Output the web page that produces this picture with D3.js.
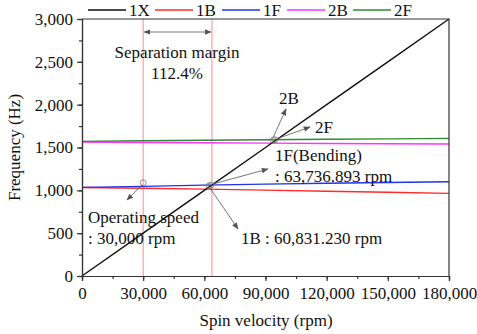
<!DOCTYPE html>
<html><head><meta charset="utf-8">
<script src="https://cdn.jsdelivr.net/npm/d3@7"></script>
<style>body{margin:0;background:#fff}svg{display:block}text{font-family:"Liberation Serif",serif;fill:#111}</style>
</head><body><svg id="c" width="477" height="334"></svg>
<script>
const seriesNames = ["1X","1B","1F","2B","2F"];
const seriesColors = ["#111111","#ff2a2a","#2233ee","#ff33ff","#2e8b2e"];
const rpm = [0, 30000, 60000, 90000, 120000, 150000, 180000];
const val1X = [0, 500, 1000, 1500, 2000, 2500, 3000];
const val1B = [1033, 1024, 1014, 1002, 990, 978, 965];
const val1F = [1035, 1046, 1061, 1072, 1082, 1091, 1100];
const val2B = [1563, 1559, 1555, 1551, 1547, 1543, 1540];
const val2F = [1572, 1578, 1584, 1590, 1596, 1601, 1606];
const xTicks = [0, 30000, 60000, 90000, 120000, 150000, 180000];
const yTicks = [0, 500, 1000, 1500, 2000, 2500, 3000];
const markLines = [30000, 63736.893];
const circles = [[30000, 1088], [62300, 1050], [63200, 1062], [93800, 1585], [94600, 1590]];

const FS = 17;
const svg = d3.select("#c");
const L = 82, R = 449, T = 19, B = 276;
const x = d3.scaleLinear().domain([0, 180000]).range([L, R]);
const y = d3.scaleLinear().domain([0, 3000]).range([B, T]);
const fmt = d3.format(",");

svg.append("defs").append("marker").attr("id","ah").attr("viewBox","0 0 10 10")
  .attr("refX",9).attr("refY",5).attr("markerWidth",7).attr("markerHeight",7)
  .attr("orient","auto-start-reverse").attr("markerUnits","userSpaceOnUse")
  .append("path").attr("d","M0,1 L10,5 L0,9 Z").attr("fill","#555");

markLines.forEach(v => svg.append("line").attr("x1",x(v)).attr("x2",x(v)).attr("y1",T).attr("y2",B)
  .attr("stroke","#ff8a8a").attr("stroke-width",1));

const all = [val1X, val1B, val1F, val2B, val2F];
const line = d3.line().x(d => x(d[0])).y(d => y(d[1]));
[1,2,3,4,0].forEach(i => {
  svg.append("path").datum(rpm.map((r,j)=>[r, all[i][j]])).attr("d", line)
    .attr("fill","none").attr("stroke", seriesColors[i]).attr("stroke-width", 1.4);
});

const xMinor = d3.range(0, 180001, 15000);
const yMinor = d3.range(0, 3001, 250);
const gx = svg.append("g").attr("transform",`translate(0,${B})`)
  .call(d3.axisBottom(x).tickValues(xMinor).tickSize(3).tickFormat(""));
const gx2 = svg.append("g").attr("transform",`translate(0,${B})`)
  .call(d3.axisBottom(x).tickValues(xTicks).tickSize(5).tickPadding(4).tickFormat(fmt));
const gy = svg.append("g").attr("transform",`translate(${L},0)`)
  .call(d3.axisLeft(y).tickValues(yMinor).tickSize(3).tickFormat(""));
const gy2 = svg.append("g").attr("transform",`translate(${L},0)`)
  .call(d3.axisLeft(y).tickValues(yTicks).tickSize(5).tickPadding(4).tickFormat(fmt));
[gx,gx2,gy,gy2].forEach(g => { g.attr("font-family",null).attr("font-size",null);
  g.selectAll("path,line").attr("stroke","#333").attr("stroke-width",1.2);
  g.selectAll("text").attr("font-size",FS).attr("fill","#111"); });
gx2.selectAll("text").attr("dy","0.85em");
svg.append("path").attr("d",`M${L},${T}H${R}V${B}`).attr("fill","none").attr("stroke","#333").attr("stroke-width",1.2);

svg.append("text").attr("x",266).attr("y",326).attr("text-anchor","middle").attr("font-size",FS).text("Spin velocity (rpm)");
svg.append("text").attr("transform",`translate(20,${(T+B)/2}) rotate(-90)`).attr("text-anchor","middle").attr("font-size",FS).text("Frequency (Hz)");

const legX = [88, 155, 222, 287, 353];
seriesNames.forEach((n,i) => {
  svg.append("line").attr("x1",legX[i]).attr("x2",legX[i]+38).attr("y1",10).attr("y2",10)
    .attr("stroke",seriesColors[i]).attr("stroke-width",1.4);
  svg.append("text").attr("x",legX[i]+41).attr("y",16).attr("font-size",FS).text(n);
});

svg.append("line").attr("x1",x(markLines[0])+1).attr("x2",x(markLines[1])-1).attr("y1",32).attr("y2",32)
  .attr("stroke","#555").attr("stroke-width",0.8).attr("marker-start","url(#ah)").attr("marker-end","url(#ah)");
svg.append("text").attr("x",177).attr("y",58).attr("text-anchor","middle").attr("font-size",FS).text("Separation margin");
svg.append("text").attr("x",177).attr("y",79).attr("text-anchor","middle").attr("font-size",FS).text("112.4%");

circles.forEach(c => svg.append("circle").attr("cx",x(c[0])).attr("cy",y(c[1])).attr("r",3)
  .attr("fill","none").attr("stroke","#777").attr("stroke-width",0.8));

function arrow(x1,y1,x2,y2){ svg.append("line").attr("x1",x1).attr("y1",y1).attr("x2",x2).attr("y2",y2)
  .attr("stroke","#555").attr("stroke-width",0.8).attr("marker-end","url(#ah)"); }
arrow(x(30000)-1, y(1088)+2, 127, 200);
arrow(x(62300)+1, y(1050)+2, 238, 229);
arrow(x(63200)+2, y(1062)-1, 268, 169);
arrow(x(93800), y(1585)-3, 286, 109);
arrow(x(94600)+2, y(1590)-1, 310, 127);

const ann = [["Operating speed",88,223],[": 30,000 rpm",88,244],["1B : 60,831.230 rpm",241,244],
  ["1F(Bending)",275,161],[": 63,736.893 rpm",275,182],["2B",279,104],["2F",315,133]];
ann.forEach(a => svg.append("text").attr("x",a[1]).attr("y",a[2]).attr("font-size",FS).text(a[0]));
</script></body></html>
